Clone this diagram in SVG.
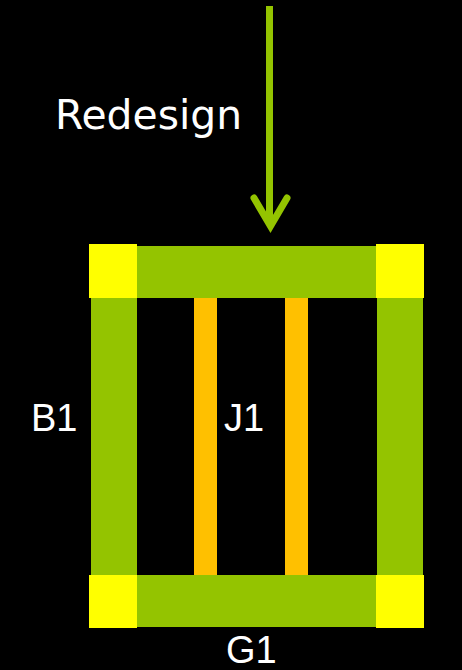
<svg xmlns="http://www.w3.org/2000/svg" width="462" height="670" viewBox="0 0 462 670">
<style>
.g{fill:#94C400}
.y{fill:#FFFF00}
.o{fill:#FFC000}
.t{fill:#FFFFFF;font-family:"Liberation Sans",Arial,sans-serif;font-size:38px}
.h{fill:#FFFFFF;font-family:"Century Gothic","DejaVu Sans","Liberation Sans",sans-serif;font-size:40px}
</style>
<rect width="462" height="670" fill="#000"/>
<g id="connectors">
<line x1="269.5" y1="6" x2="269.5" y2="224" stroke="#94C400" stroke-width="7"/>
<polyline points="254,198 270.5,226 287,198" fill="none" stroke="#94C400" stroke-width="7" stroke-linecap="round" stroke-linejoin="miter"/>
</g>
<g id="redesign"><text class="h" x="55" y="129" textLength="187" lengthAdjust="spacingAndGlyphs">Redesign</text></g>
<g id="B1">
<rect class="g" x="91" y="296" width="46" height="281"/>
<rect class="g" x="377" y="296" width="46" height="281"/>
<text class="t" x="31" y="431">B1</text>
</g>
<g id="J1">
<rect class="o" x="194" y="296" width="23" height="281"/>
<rect class="o" x="285" y="296" width="23" height="281"/>
<text class="t" x="224" y="431">J1</text>
</g>
<g id="top-beam">
<rect class="g" x="135" y="246" width="244" height="52"/>
<rect class="y" x="89" y="244" width="48" height="54"/>
<rect class="y" x="376" y="244" width="48" height="54"/>
</g>
<g id="G1">
<rect class="g" x="135" y="575" width="244" height="52"/>
<rect class="y" x="89" y="575" width="48" height="53"/>
<rect class="y" x="376" y="575" width="48" height="53"/>
<text class="t" x="226" y="663">G1</text>
</g>
</svg>
